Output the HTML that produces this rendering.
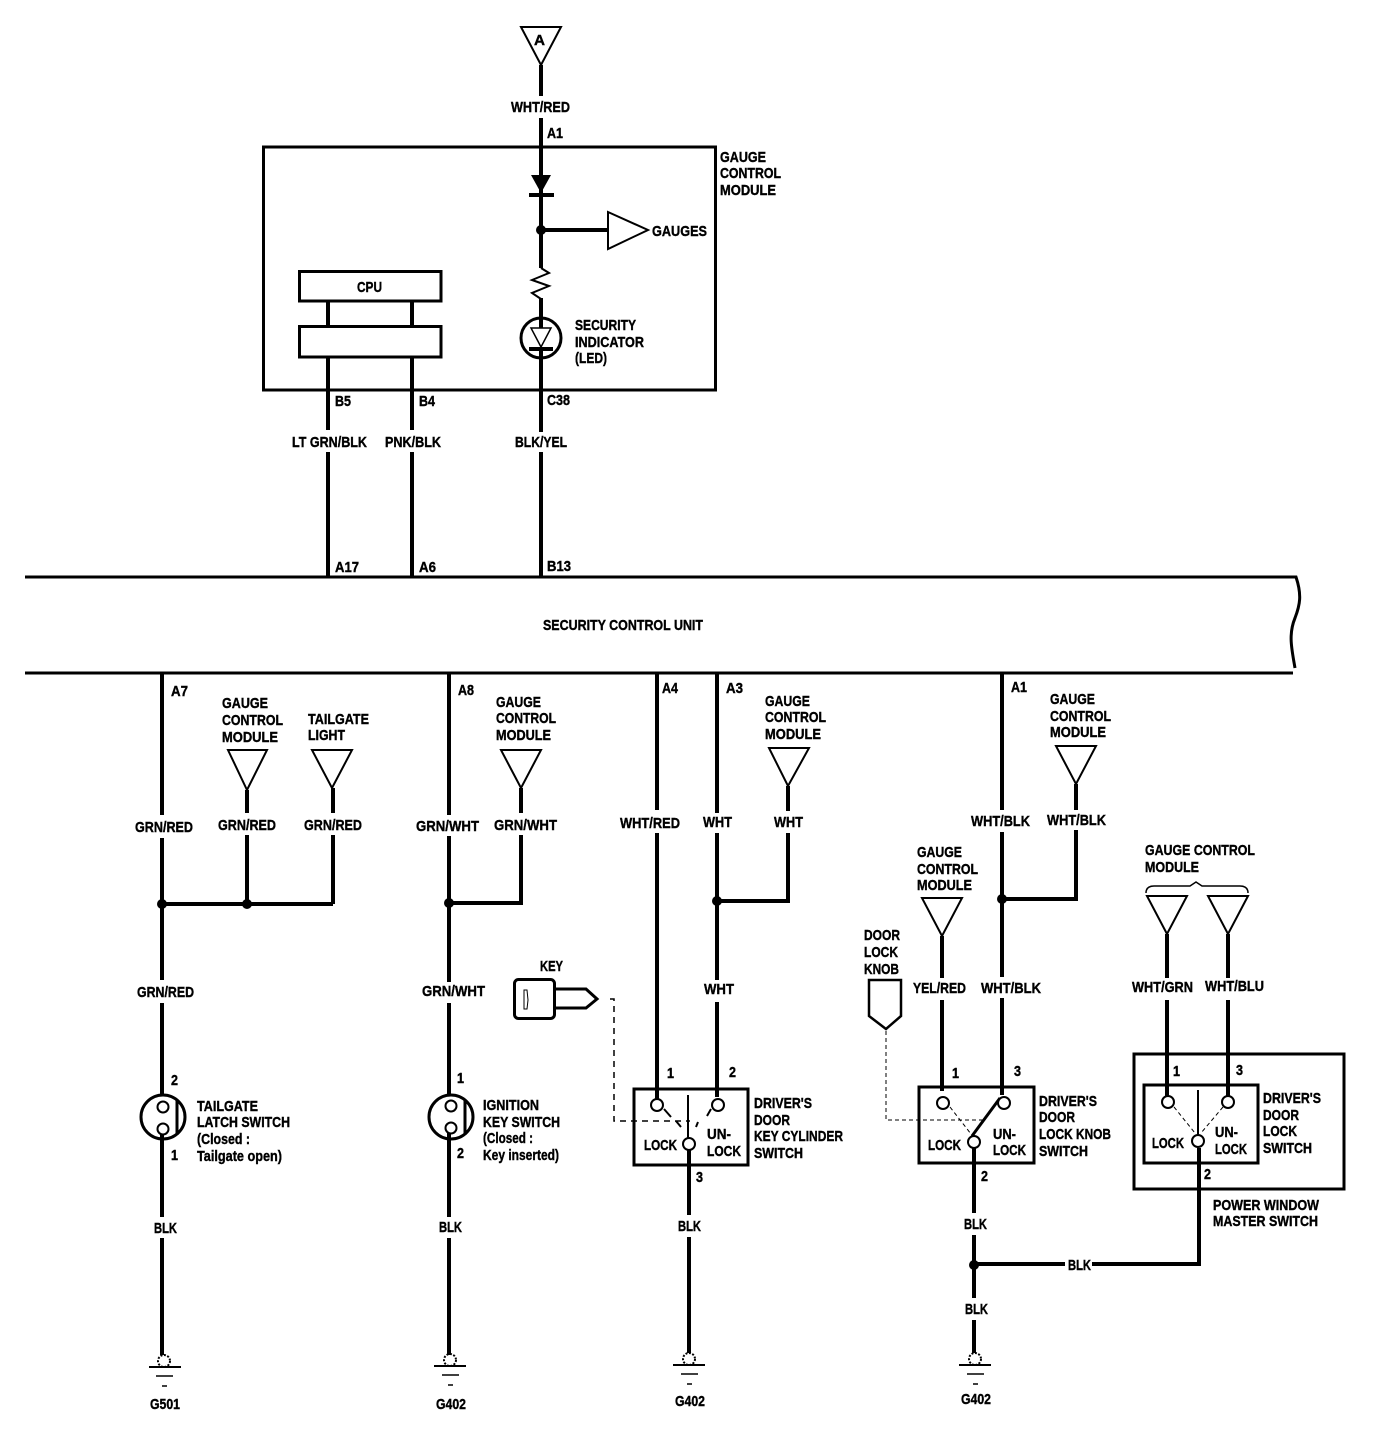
<!DOCTYPE html>
<html><head><meta charset="utf-8"><title>Security system wiring diagram</title>
<style>
html,body{margin:0;padding:0;background:#fff}
svg{display:block}
text{font-family:"Liberation Sans",sans-serif;font-weight:bold;font-size:15px;fill:#000;stroke:#000;stroke-width:.4}
.w{stroke:#000;stroke-width:4;fill:none}
.t{stroke:#000;stroke-width:3;fill:none}
.n{stroke:#000;stroke-width:2;fill:none}
.o{stroke:#000;stroke-width:2;fill:#fff}
.c{stroke:#000;stroke-width:2;fill:#fff}
.d{stroke:#000;stroke-width:1.5;fill:none;stroke-dasharray:6 5}
.f{stroke:#000;stroke-width:1;fill:none;stroke-dasharray:4 3}
</style></head><body>
<svg width="1376" height="1442" viewBox="0 0 1376 1442" xmlns="http://www.w3.org/2000/svg">
<rect width="1376" height="1442" fill="#fff"/>
<!-- buses -->
<path class="t" d="M25 577H1296C1302 595 1300 605 1295 618C1288 635 1292 650 1295 668"/>
<path class="t" d="M25 673H1293"/>
<!-- gauge module -->
<rect class="t" x="263.500" y="147" width="452" height="243"/>
<path class="t" d="M299.500 271.500H441V301H299.500Z M299.500 326.500H441V357H299.500Z"/>
<path class="w" d="M541 65V96M541 118V268M541 298V320M541 358V432M541 452V577M541 230H608M328 301V326M412 301V326M328 357V430M328 452V577M412 357V430M412 452V577"/>
<polygon points="531,175 551,175 541,193" fill="#000"/>
<path class="w" d="M529 195H554"/>
<circle cx="541" cy="230" r="5" fill="#000"/>
<polygon class="o" points="521,27 561,27 541,65"/>
<polygon class="o" points="608,212 608,249 648,230"/>
<polyline class="c" points="541,268 549,273 532,280 549,286 532,293 541,299" style="fill:none"/>
<circle class="t" cx="541" cy="338" r="20" style="fill:#fff"/>
<path class="w" d="M541 318V330M541 348V360"/>
<polygon points="531,328 551,328 541,347" fill="#fff" stroke="#000" stroke-width="1.500"/>
<path class="w" d="M529 349H553"/>
<!-- column 1 -->
<path class="w" d="M162 672V815M162 838V980M162 1003V1095M162 1132V1217M162 1238V1355M162 904H333M247 790V813M247 835V904M333 788V813M333 835V904"/>
<circle cx="162" cy="904" r="5" fill="#000"/><circle cx="247" cy="904" r="5" fill="#000"/>
<polygon class="o" points="228,750 267,750 247,790"/><polygon class="o" points="312,750 352,750 332,788"/>
<circle class="t" cx="163" cy="1117" r="22"/>
<circle class="c" cx="163" cy="1107" r="5.500"/><circle class="c" cx="163" cy="1129" r="5.500"/>
<path class="t" d="M177 1100V1135"/>
<!-- column 2 -->
<path class="w" d="M449 672V815M449 836V982M449 1003V1095M449 1132V1217M449 1238V1355M449 903H521V835M521 788V813"/>
<circle cx="449" cy="903" r="5" fill="#000"/>
<polygon class="o" points="501,750 541,750 521,788"/>
<circle class="t" cx="451" cy="1117" r="22"/>
<circle class="c" cx="451" cy="1106" r="5.500"/><circle class="c" cx="451" cy="1128" r="5.500"/>
<path class="t" d="M465 1100V1135"/>
<!-- column 3 -->
<path class="w" d="M657 672V810M657 833V1100M717 672V813M717 833V980M717 1002V1097M717 901H788V833M788 786V811M689 1150V1215M689 1237V1353"/>
<circle cx="717" cy="901" r="5" fill="#000"/>
<polygon class="o" points="769,748 809,748 788,786"/>
<rect class="t" x="634" y="1089" width="114" height="76"/>
<circle class="c" cx="657" cy="1105" r="6"/><circle class="c" cx="718" cy="1105" r="6"/><circle class="c" cx="689" cy="1144" r="6"/>
<path class="n" d="M688 1095V1139"/>
<path class="n" d="M664 1109L671 1117M711 1109L707 1116M676 1121L681 1127M698 1122L696 1127"/>
<rect class="t" x="514.500" y="979.500" width="40" height="39" rx="4"/>
<path class="t" d="M555 989H586L597 999L586 1008H555"/>
<path d="M524 990H527L528 1000L527 1009H524Z" stroke="#000" stroke-width="1" fill="#fff"/>
<path class="d" d="M610 999H614V1121H690"/>
<!-- column 4 -->
<path class="w" d="M1002 672V810M1002 832V977M1002 998V1095M1002 899H1076V830M1076 784V810M942 936V978M942 1000V1091M974 1148V1213M974 1235V1298M974 1320V1353M974 1264H1065M1092 1264H1199V1148"/>
<circle cx="1002" cy="899" r="5" fill="#000"/><circle cx="974" cy="1265" r="5" fill="#000"/>
<polygon class="o" points="1056,746 1096,746 1076,784"/>
<polygon class="o" points="922,898 962,898 942,936"/>
<rect class="t" x="919" y="1087" width="115" height="76"/>
<path class="w" d="M1000 1098L972 1136" style="stroke-width:3"/>
<circle class="c" cx="943" cy="1103" r="6"/><circle class="c" cx="1004" cy="1103" r="6"/><circle class="c" cx="974" cy="1142" r="6"/>
<path class="f" d="M950 1107L971 1134"/>
<polygon class="t" points="869,980 901,980 901,1016 886,1029 869,1016" style="stroke-width:2.500"/>
<path class="f" d="M886 1031V1120H985"/>
<!-- power window -->
<rect class="t" x="1134" y="1054" width="210" height="135"/>
<path class="w" d="M1167 934V978M1167 1000V1097M1228 934V978M1228 1000V1097"/>
<rect class="t" x="1144" y="1085" width="114" height="78"/>
<polygon class="o" points="1147,896 1187,896 1167,934"/><polygon class="o" points="1208,896 1248,896 1228,934"/>
<path class="n" d="M1198 1090V1136"/>
<circle class="c" cx="1168" cy="1102" r="6"/><circle class="c" cx="1228" cy="1102" r="6"/><circle class="c" cx="1198" cy="1141" r="6"/>
<path class="f" d="M1174 1107L1195 1133M1223 1107L1201 1133"/>
<path class="n" d="M1146 893Q1146 886 1154 886H1190L1196 882L1202 886H1240Q1248 886 1248 893" style="stroke-width:1.500"/>
<!-- grounds -->
<g id="grounds">
<circle class="f" cx="164" cy="1361" r="6" style="stroke-dasharray:2 1.500;stroke-width:2"/><path class="n" d="M149 1367H181"/><path class="n" d="M156 1376H173" style="stroke-width:1.500"/><path class="n" d="M162 1386H167" style="stroke-width:1.500"/>
<circle class="f" cx="450" cy="1360" r="6" style="stroke-dasharray:2 1.500;stroke-width:2"/><path class="n" d="M434 1366H466"/><path class="n" d="M442 1375H459" style="stroke-width:1.500"/><path class="n" d="M448 1385H453" style="stroke-width:1.500"/>
<circle class="f" cx="689" cy="1359" r="6" style="stroke-dasharray:2 1.500;stroke-width:2"/><path class="n" d="M673 1365H705"/><path class="n" d="M681 1374H698" style="stroke-width:1.500"/><path class="n" d="M687 1384H692" style="stroke-width:1.500"/>
<circle class="f" cx="975" cy="1359" r="6" style="stroke-dasharray:2 1.500;stroke-width:2"/><path class="n" d="M959 1365H991"/><path class="n" d="M967 1374H984" style="stroke-width:1.500"/><path class="n" d="M973 1384H978" style="stroke-width:1.500"/>
</g>
<!-- labels -->
<g>
<text x="534" y="45" textLength="11" lengthAdjust="spacingAndGlyphs">A</text>
<text x="511" y="112" textLength="59" lengthAdjust="spacingAndGlyphs">WHT/RED</text>
<text x="547" y="138" textLength="16" lengthAdjust="spacingAndGlyphs">A1</text>
<text x="720" y="162" textLength="46" lengthAdjust="spacingAndGlyphs">GAUGE</text>
<text x="720" y="178" textLength="61" lengthAdjust="spacingAndGlyphs">CONTROL</text>
<text x="720" y="195" textLength="56" lengthAdjust="spacingAndGlyphs">MODULE</text>
<text x="652" y="236" textLength="55" lengthAdjust="spacingAndGlyphs">GAUGES</text>
<text x="357" y="292" textLength="25" lengthAdjust="spacingAndGlyphs">CPU</text>
<text x="575" y="330" textLength="61" lengthAdjust="spacingAndGlyphs">SECURITY</text>
<text x="575" y="347" textLength="69" lengthAdjust="spacingAndGlyphs">INDICATOR</text>
<text x="575" y="363" textLength="32" lengthAdjust="spacingAndGlyphs">(LED)</text>
<text x="335" y="406" textLength="16" lengthAdjust="spacingAndGlyphs">B5</text>
<text x="419" y="406" textLength="16" lengthAdjust="spacingAndGlyphs">B4</text>
<text x="547" y="405" textLength="23" lengthAdjust="spacingAndGlyphs">C38</text>
<text x="292" y="447" textLength="75" lengthAdjust="spacingAndGlyphs">LT GRN/BLK</text>
<text x="385" y="447" textLength="56" lengthAdjust="spacingAndGlyphs">PNK/BLK</text>
<text x="515" y="447" textLength="52" lengthAdjust="spacingAndGlyphs">BLK/YEL</text>
<text x="335" y="572" textLength="24" lengthAdjust="spacingAndGlyphs">A17</text>
<text x="419" y="572" textLength="17" lengthAdjust="spacingAndGlyphs">A6</text>
<text x="547" y="571" textLength="24" lengthAdjust="spacingAndGlyphs">B13</text>
<text x="543" y="630" textLength="160" lengthAdjust="spacingAndGlyphs">SECURITY CONTROL UNIT</text>
<text x="171" y="696" textLength="17" lengthAdjust="spacingAndGlyphs">A7</text>
<text x="458" y="695" textLength="16" lengthAdjust="spacingAndGlyphs">A8</text>
<text x="662" y="693" textLength="16" lengthAdjust="spacingAndGlyphs">A4</text>
<text x="726" y="693" textLength="17" lengthAdjust="spacingAndGlyphs">A3</text>
<text x="1011" y="692" textLength="16" lengthAdjust="spacingAndGlyphs">A1</text>
<text x="222" y="708" textLength="46" lengthAdjust="spacingAndGlyphs">GAUGE</text>
<text x="222" y="725" textLength="61" lengthAdjust="spacingAndGlyphs">CONTROL</text>
<text x="222" y="742" textLength="56" lengthAdjust="spacingAndGlyphs">MODULE</text>
<text x="308" y="724" textLength="61" lengthAdjust="spacingAndGlyphs">TAILGATE</text>
<text x="308" y="740" textLength="37" lengthAdjust="spacingAndGlyphs">LIGHT</text>
<text x="135" y="832" textLength="58" lengthAdjust="spacingAndGlyphs">GRN/RED</text>
<text x="218" y="830" textLength="58" lengthAdjust="spacingAndGlyphs">GRN/RED</text>
<text x="304" y="830" textLength="58" lengthAdjust="spacingAndGlyphs">GRN/RED</text>
<text x="416" y="831" textLength="63" lengthAdjust="spacingAndGlyphs">GRN/WHT</text>
<text x="494" y="830" textLength="63" lengthAdjust="spacingAndGlyphs">GRN/WHT</text>
<text x="496" y="707" textLength="45" lengthAdjust="spacingAndGlyphs">GAUGE</text>
<text x="496" y="723" textLength="60" lengthAdjust="spacingAndGlyphs">CONTROL</text>
<text x="496" y="740" textLength="55" lengthAdjust="spacingAndGlyphs">MODULE</text>
<text x="620" y="828" textLength="60" lengthAdjust="spacingAndGlyphs">WHT/RED</text>
<text x="703" y="827" textLength="29" lengthAdjust="spacingAndGlyphs">WHT</text>
<text x="774" y="827" textLength="29" lengthAdjust="spacingAndGlyphs">WHT</text>
<text x="765" y="706" textLength="45" lengthAdjust="spacingAndGlyphs">GAUGE</text>
<text x="765" y="722" textLength="61" lengthAdjust="spacingAndGlyphs">CONTROL</text>
<text x="765" y="739" textLength="56" lengthAdjust="spacingAndGlyphs">MODULE</text>
<text x="1050" y="704" textLength="45" lengthAdjust="spacingAndGlyphs">GAUGE</text>
<text x="1050" y="721" textLength="61" lengthAdjust="spacingAndGlyphs">CONTROL</text>
<text x="1050" y="737" textLength="56" lengthAdjust="spacingAndGlyphs">MODULE</text>
<text x="971" y="826" textLength="59" lengthAdjust="spacingAndGlyphs">WHT/BLK</text>
<text x="1047" y="825" textLength="59" lengthAdjust="spacingAndGlyphs">WHT/BLK</text>
<text x="917" y="857" textLength="45" lengthAdjust="spacingAndGlyphs">GAUGE</text>
<text x="917" y="874" textLength="61" lengthAdjust="spacingAndGlyphs">CONTROL</text>
<text x="917" y="890" textLength="55" lengthAdjust="spacingAndGlyphs">MODULE</text>
<text x="1145" y="855" textLength="110" lengthAdjust="spacingAndGlyphs">GAUGE CONTROL</text>
<text x="1145" y="872" textLength="54" lengthAdjust="spacingAndGlyphs">MODULE</text>
<text x="137" y="997" textLength="57" lengthAdjust="spacingAndGlyphs">GRN/RED</text>
<text x="422" y="996" textLength="63" lengthAdjust="spacingAndGlyphs">GRN/WHT</text>
<text x="704" y="994" textLength="30" lengthAdjust="spacingAndGlyphs">WHT</text>
<text x="540" y="971" textLength="23" lengthAdjust="spacingAndGlyphs">KEY</text>
<text x="864" y="940" textLength="36" lengthAdjust="spacingAndGlyphs">DOOR</text>
<text x="864" y="957" textLength="34" lengthAdjust="spacingAndGlyphs">LOCK</text>
<text x="864" y="974" textLength="35" lengthAdjust="spacingAndGlyphs">KNOB</text>
<text x="913" y="993" textLength="53" lengthAdjust="spacingAndGlyphs">YEL/RED</text>
<text x="981" y="993" textLength="60" lengthAdjust="spacingAndGlyphs">WHT/BLK</text>
<text x="1132" y="992" textLength="61" lengthAdjust="spacingAndGlyphs">WHT/GRN</text>
<text x="1205" y="991" textLength="59" lengthAdjust="spacingAndGlyphs">WHT/BLU</text>
<text x="171" y="1085" textLength="7" lengthAdjust="spacingAndGlyphs">2</text><text x="171" y="1160" textLength="7" lengthAdjust="spacingAndGlyphs">1</text>
<text x="457" y="1083" textLength="7" lengthAdjust="spacingAndGlyphs">1</text><text x="457" y="1158" textLength="7" lengthAdjust="spacingAndGlyphs">2</text>
<text x="667" y="1078" textLength="7" lengthAdjust="spacingAndGlyphs">1</text><text x="729" y="1077" textLength="7" lengthAdjust="spacingAndGlyphs">2</text>
<text x="952" y="1078" textLength="7" lengthAdjust="spacingAndGlyphs">1</text><text x="1014" y="1076" textLength="7" lengthAdjust="spacingAndGlyphs">3</text>
<text x="1173" y="1076" textLength="7" lengthAdjust="spacingAndGlyphs">1</text><text x="1236" y="1075" textLength="7" lengthAdjust="spacingAndGlyphs">3</text>
<text x="696" y="1182" textLength="7" lengthAdjust="spacingAndGlyphs">3</text><text x="981" y="1181" textLength="7" lengthAdjust="spacingAndGlyphs">2</text><text x="1204" y="1179" textLength="7" lengthAdjust="spacingAndGlyphs">2</text>
<text x="197" y="1111" textLength="61" lengthAdjust="spacingAndGlyphs">TAILGATE</text>
<text x="197" y="1127" textLength="93" lengthAdjust="spacingAndGlyphs">LATCH SWITCH</text>
<text x="197" y="1144" textLength="53" lengthAdjust="spacingAndGlyphs">(Closed :</text>
<text x="197" y="1161" textLength="85" lengthAdjust="spacingAndGlyphs">Tailgate open)</text>
<text x="483" y="1110" textLength="56" lengthAdjust="spacingAndGlyphs">IGNITION</text>
<text x="483" y="1127" textLength="77" lengthAdjust="spacingAndGlyphs">KEY SWITCH</text>
<text x="483" y="1143" textLength="50" lengthAdjust="spacingAndGlyphs">(Closed :</text>
<text x="483" y="1160" textLength="76" lengthAdjust="spacingAndGlyphs">Key inserted)</text>
<text x="754" y="1108" textLength="58" lengthAdjust="spacingAndGlyphs">DRIVER'S</text>
<text x="754" y="1125" textLength="36" lengthAdjust="spacingAndGlyphs">DOOR</text>
<text x="754" y="1141" textLength="89" lengthAdjust="spacingAndGlyphs">KEY CYLINDER</text>
<text x="754" y="1158" textLength="49" lengthAdjust="spacingAndGlyphs">SWITCH</text>
<text x="644" y="1150" textLength="33" lengthAdjust="spacingAndGlyphs">LOCK</text>
<text x="707" y="1139" textLength="24" lengthAdjust="spacingAndGlyphs">UN-</text>
<text x="707" y="1156" textLength="34" lengthAdjust="spacingAndGlyphs">LOCK</text>
<text x="1039" y="1106" textLength="58" lengthAdjust="spacingAndGlyphs">DRIVER'S</text>
<text x="1039" y="1122" textLength="36" lengthAdjust="spacingAndGlyphs">DOOR</text>
<text x="1039" y="1139" textLength="72" lengthAdjust="spacingAndGlyphs">LOCK KNOB</text>
<text x="1039" y="1156" textLength="49" lengthAdjust="spacingAndGlyphs">SWITCH</text>
<text x="928" y="1150" textLength="33" lengthAdjust="spacingAndGlyphs">LOCK</text>
<text x="993" y="1139" textLength="23" lengthAdjust="spacingAndGlyphs">UN-</text>
<text x="993" y="1155" textLength="33" lengthAdjust="spacingAndGlyphs">LOCK</text>
<text x="1263" y="1103" textLength="58" lengthAdjust="spacingAndGlyphs">DRIVER'S</text>
<text x="1263" y="1120" textLength="36" lengthAdjust="spacingAndGlyphs">DOOR</text>
<text x="1263" y="1136" textLength="34" lengthAdjust="spacingAndGlyphs">LOCK</text>
<text x="1263" y="1153" textLength="49" lengthAdjust="spacingAndGlyphs">SWITCH</text>
<text x="1152" y="1148" textLength="32" lengthAdjust="spacingAndGlyphs">LOCK</text>
<text x="1215" y="1137" textLength="23" lengthAdjust="spacingAndGlyphs">UN-</text>
<text x="1215" y="1154" textLength="32" lengthAdjust="spacingAndGlyphs">LOCK</text>
<text x="1213" y="1210" textLength="106" lengthAdjust="spacingAndGlyphs">POWER WINDOW</text>
<text x="1213" y="1226" textLength="105" lengthAdjust="spacingAndGlyphs">MASTER SWITCH</text>
<text x="154" y="1233" textLength="23" lengthAdjust="spacingAndGlyphs">BLK</text>
<text x="439" y="1232" textLength="23" lengthAdjust="spacingAndGlyphs">BLK</text>
<text x="678" y="1231" textLength="23" lengthAdjust="spacingAndGlyphs">BLK</text>
<text x="964" y="1229" textLength="23" lengthAdjust="spacingAndGlyphs">BLK</text>
<text x="965" y="1314" textLength="23" lengthAdjust="spacingAndGlyphs">BLK</text>
<text x="1068" y="1270" textLength="23" lengthAdjust="spacingAndGlyphs">BLK</text>
<text x="150" y="1409" textLength="30" lengthAdjust="spacingAndGlyphs">G501</text>
<text x="436" y="1409" textLength="30" lengthAdjust="spacingAndGlyphs">G402</text>
<text x="675" y="1406" textLength="30" lengthAdjust="spacingAndGlyphs">G402</text>
<text x="961" y="1404" textLength="30" lengthAdjust="spacingAndGlyphs">G402</text>
</g>
</svg>
</body></html>
